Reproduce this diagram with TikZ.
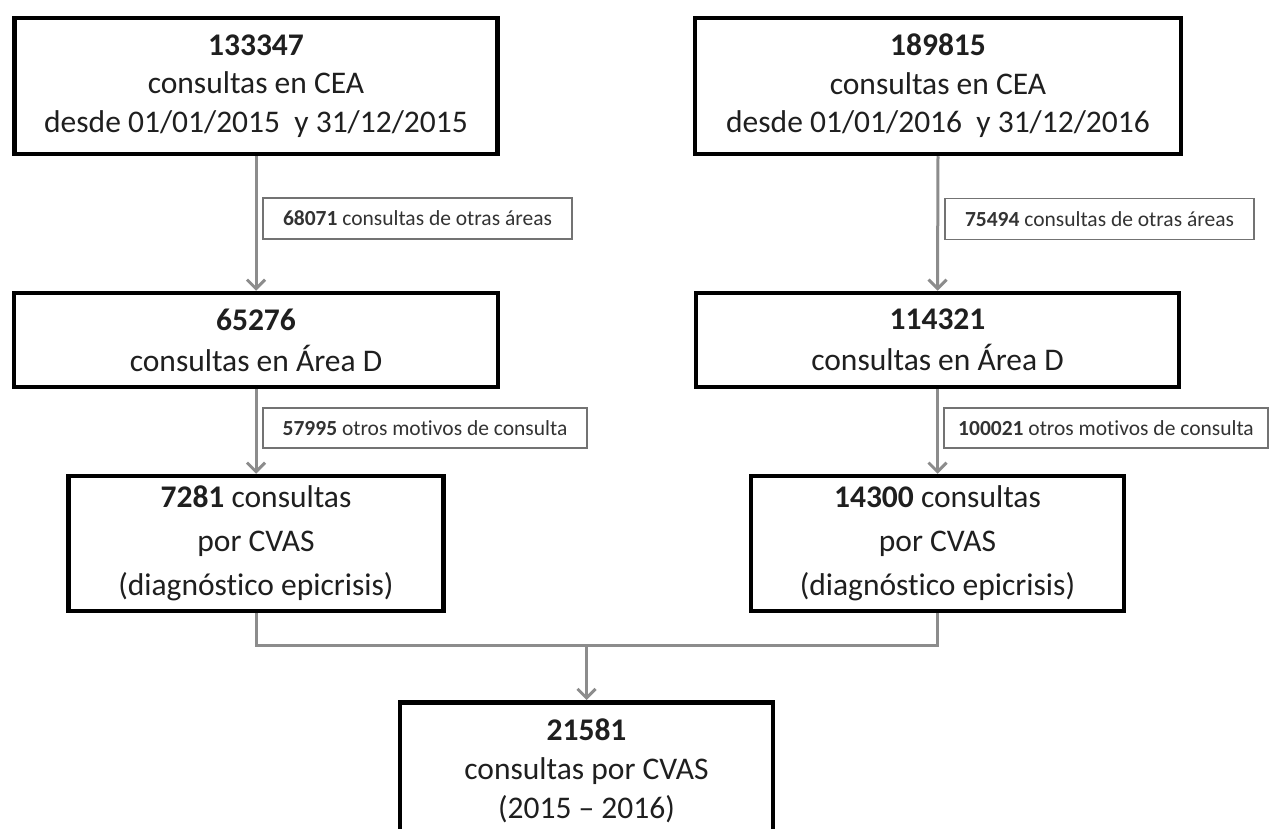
\documentclass[tikz,border=0pt]{standalone}
\usepackage{fontspec}
\setmainfont[Ligatures=NoCommon]{Carlito}
\usetikzlibrary{arrows.meta}
\begin{document}
\begin{tikzpicture}[x=1pt,y=-1pt,
 box/.style={draw=black, line width=4.5pt, fill=white, align=center, inner sep=0pt, font=\fontsize{31.5}{38.5}\selectfont, text=black!88},
 lab/.style={draw=black!55, line width=1.6pt, fill=white, inner sep=0pt, font=\fontsize{21.5}{25}\selectfont, text=black!80},
 arr/.style={draw=black!45, line width=3pt, -{Straight Barb[length=9pt,width=18pt]}},
 conn/.style={draw=black!45, line width=3pt}]
\clip (0,0) rectangle (1270,829);
\useasboundingbox (0,0) rectangle (1270,829);
\fill[white] (0,0) rectangle (1270,829);
% main boxes
\node[box, minimum width=483pt, minimum height=136pt] (b1) at (256,86)
  {\textbf{133347}\\consultas en CEA\\desde 01/01/2015 \ y 31/12/2015};
\node[box, minimum width=486pt, minimum height=136pt] (b2) at (938,86)
  {\textbf{189815}\\consultas en CEA\\desde 01/01/2016 \ y 31/12/2016};
\node[box, minimum width=484pt, minimum height=94pt, font=\fontsize{31.5}{41}\selectfont] (b3) at (256,340)
  {\textbf{65276}\\consultas en Área D};
\node[box, minimum width=483pt, minimum height=94pt, font=\fontsize{31.5}{41}\selectfont] (b4) at (937.5,340)
  {\textbf{114321}\\consultas en Área D};
\node[box, minimum width=375pt, minimum height=135pt, font=\fontsize{31.5}{44}\selectfont] (b5) at (256,543.5)
  {\textbf{7281} consultas\\por CVAS\\(diagnóstico epicrisis)};
\node[box, minimum width=373pt, minimum height=135pt, font=\fontsize{31.5}{44}\selectfont] (b6) at (937.5,543.5)
  {\textbf{14300} consultas\\por CVAS\\(diagnóstico epicrisis)};
\node[box, anchor=north, minimum width=373pt, minimum height=138pt, font=\fontsize{31.5}{39}\selectfont] (b7) at (586.5,700)
  {\textbf{21581}\\consultas por CVAS\\(2015 -- 2016)};
% connectors
\draw[arr] (b1.south) -- (b3.north);
\draw[arr] (b2.south) -- (b4.north);
\draw[arr] (b3.south) -- (b5.north);
\draw[arr] (b4.south) -- (b6.north);
\coordinate (j) at (586.5,645);
\draw[conn] (b5.south) |- (j) -| (b6.south);
\draw[arr] (j) -- (b7.north);
% labels
\node[lab, minimum width=309pt, minimum height=41pt] (l1) at (417.5,218.5) {\textbf{68071} consultas de otras áreas};
\node[lab, minimum width=309pt, minimum height=41pt] (l2) at (1099.5,219) {\textbf{75494} consultas de otras áreas};
\node[lab, minimum width=324pt, minimum height=40pt] (l3) at (425,428) {\textbf{57995} otros motivos de consulta};
\node[lab, minimum width=324pt, minimum height=40pt] (l4) at (1106,428) {\textbf{100021} otros motivos de consulta};
\end{tikzpicture}
\end{document}
